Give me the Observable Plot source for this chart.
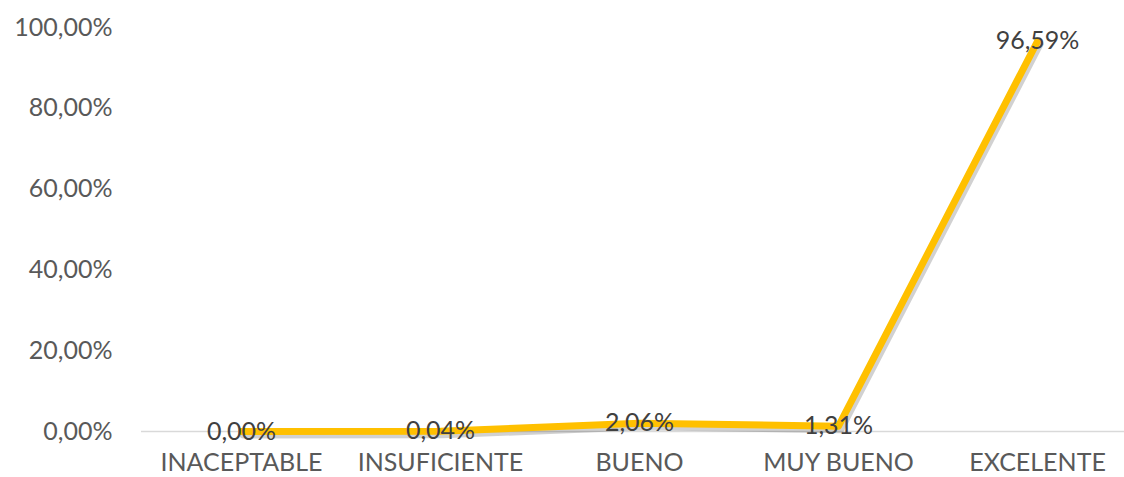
<!DOCTYPE html>
<html><head><meta charset="utf-8">
<script src="https://cdn.jsdelivr.net/npm/d3@7"></script>
<script src="https://cdn.jsdelivr.net/npm/@observablehq/plot@0.6"></script>
<style>body{margin:0;background:#fff;overflow:hidden}</style>
</head><body><div id="chart"></div>
<script>
const categories = ["INACEPTABLE", "INSUFICIENTE", "BUENO", "MUY BUENO", "EXCELENTE"];
const values = [0.0, 0.04, 2.06, 1.31, 96.59];
const yTicks = [0, 20, 40, 60, 80, 100];

const data = categories.map((c, i) => ({cat: c, v: values[i]}));
const fmt = v => v.toFixed(2).replace(".", ",") + "%";

const chart = Plot.plot({
  width: 1124, height: 477,
  marginLeft: 141, marginRight: 0, marginTop: 27, marginBottom: 46,
  style: {fontFamily: "Lato, 'Open Sans', sans-serif", fontSize: "25px", color: "#595959", background: "#fff"},
  x: {type: "point", domain: categories, range: [240, 1038], padding: 0, label: null, tickSize: 0, tickPadding: 22},
  y: {domain: [0, 100], ticks: yTicks, tickFormat: fmt, label: null, tickSize: 0, tickPadding: 29},
  marks: [
    Plot.ruleY([0], {stroke: "#d9d9d9", strokeWidth: 1.5}),
    Plot.line(data, {x: "cat", y: "v", stroke: "#000", strokeOpacity: 0.18, strokeWidth: 8, dx: 2, dy: 3, strokeLinejoin: "round"}),
    Plot.line(data, {x: "cat", y: "v", stroke: "#FFC000", strokeWidth: 7, strokeLinejoin: "round"}),
    Plot.text(data, {x: "cat", y: "v", text: d => fmt(d.v), fill: "#404040", fontSize: 25})
  ]
});
document.getElementById("chart").appendChild(chart);
</script></body></html>
